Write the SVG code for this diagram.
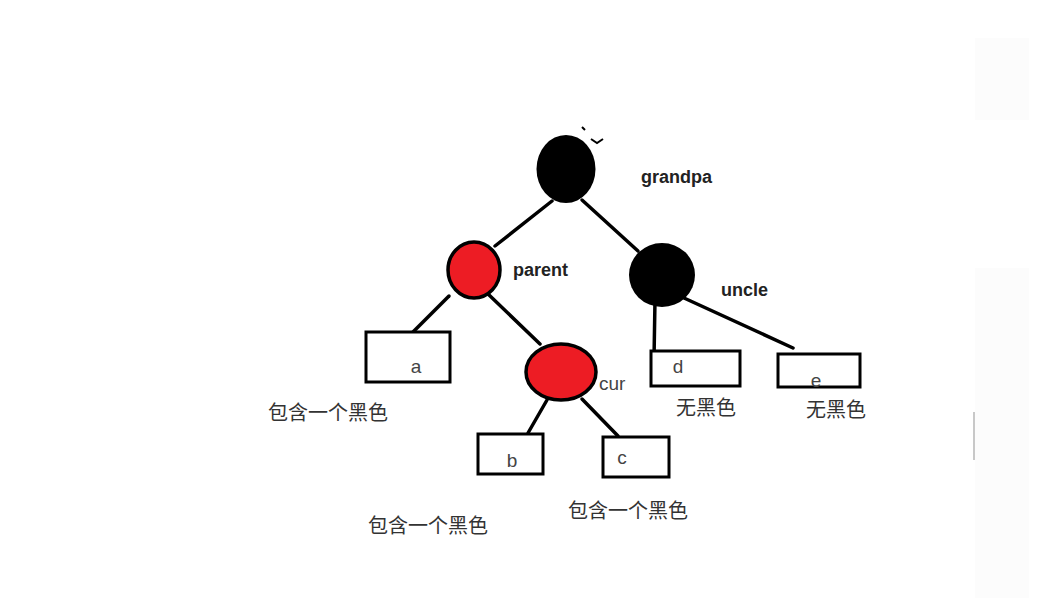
<svg xmlns="http://www.w3.org/2000/svg" width="1063" height="598" viewBox="0 0 1063 598">
<style>
.edge{stroke:#000;stroke-width:3.5;fill:none;stroke-linecap:round}
.box{fill:#fff;stroke:#000;stroke-width:3}
.lbl{font-family:"Liberation Sans",Arial,sans-serif;font-size:18px;font-weight:bold;fill:#222}
.leaf{font-family:"Liberation Sans",Arial,sans-serif;font-size:19px;fill:#444}
.cn{font-family:"Noto Sans CJK SC","Liberation Sans",sans-serif;font-size:20px;fill:#333}
</style>
<rect width="1063" height="598" fill="#fff"/>
<rect x="975" y="38" width="54" height="82" fill="#fcfcfc"/>
<rect x="975" y="268" width="54" height="330" fill="#fcfcfc"/>
<line x1="974" y1="412" x2="974" y2="460" stroke="#c8c8c8" stroke-width="2"/>
<g id="connectors">
<line class="edge" x1="552" y1="201" x2="495" y2="246"/>
<line class="edge" x1="582" y1="200" x2="638" y2="251"/>
<line class="edge" x1="449" y1="296" x2="413" y2="332"/>
<line class="edge" x1="487" y1="293" x2="540" y2="344"/>
<line class="edge" x1="547" y1="400" x2="528" y2="433"/>
<line class="edge" x1="582" y1="399" x2="618" y2="436"/>
<line class="edge" x1="655" y1="300" x2="654" y2="359"/>
<line class="edge" x1="684" y1="298" x2="793" y2="348"/>
</g>
<g id="grandpa">
<ellipse cx="566" cy="169" rx="29.5" ry="34" fill="#000"/>
<path d="M582 127 l3 3 M591 139 l6 4 l6 -4" stroke="#000" stroke-width="2" fill="none"/>
<text class="lbl" x="641" y="183">grandpa</text>
</g>
<g id="parent">
<ellipse cx="474" cy="270" rx="26" ry="28" fill="#ed1c24" stroke="#000" stroke-width="3.5"/>
<text class="lbl" x="513" y="276">parent</text>
</g>
<g id="uncle">
<ellipse cx="662" cy="275" rx="33" ry="32" fill="#000"/>
<text class="lbl" x="721" y="296">uncle</text>
</g>
<g id="cur">
<ellipse cx="561" cy="372" rx="35" ry="28" fill="#ed1c24" stroke="#000" stroke-width="3.5"/>
<text class="leaf" x="599" y="390">cur</text>
</g>
<g id="a">
<rect class="box" x="366" y="332" width="84" height="50"/>
<text class="leaf" x="416" y="373" text-anchor="middle">a</text>
<text class="cn" x="268" y="420">包含一个黑色</text>
</g>
<g id="b">
<rect class="box" x="478" y="434" width="65" height="40"/>
<text class="leaf" x="512" y="467" text-anchor="middle">b</text>
<text class="cn" x="368" y="533">包含一个黑色</text>
</g>
<g id="c">
<rect class="box" x="603" y="437" width="66" height="40"/>
<text class="leaf" x="622" y="464" text-anchor="middle">c</text>
<text class="cn" x="568" y="518">包含一个黑色</text>
</g>
<g id="d">
<rect class="box" x="651" y="351" width="89" height="35"/>
<text class="leaf" x="678" y="373" text-anchor="middle">d</text>
<text class="cn" x="676" y="415">无黑色</text>
</g>
<g id="e">
<rect class="box" x="778" y="354" width="82" height="33"/>
<text class="leaf" x="816" y="387" text-anchor="middle">e</text>
<text class="cn" x="806" y="417">无黑色</text>
</g>
</svg>
